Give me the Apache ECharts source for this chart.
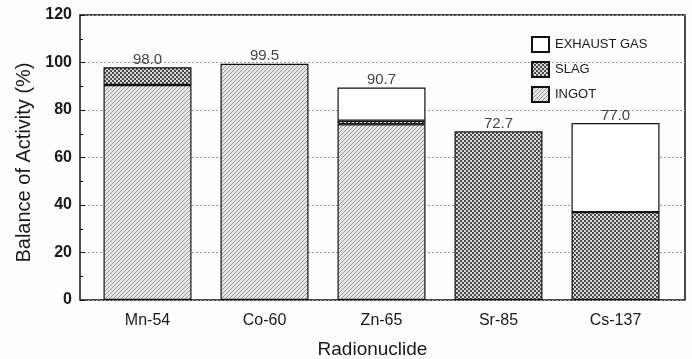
<!DOCTYPE html>
<html>
<head>
<meta charset="utf-8">
<script src="https://cdn.jsdelivr.net/npm/echarts@6/dist/echarts.min.js"></script>
<style>
    html, body { margin: 0; padding: 0; background: #fdfdfd; }
    #chart { width: 692px; height: 359px; }
</style>
</head>
<body>
<div id="chart"></div>
<script>
    // data
    var nuclides = ["Mn-54", "Co-60", "Zn-65", "Sr-85", "Cs-137"];
    var ingot = [90.5, 99.5, 74, null, null];
    var slag = [7.5, null, 1.5, 71, 37];
    var exhaust = [null, null, 14, null, 37.5];
    var barTops = [98, 99.5, 89.5, 71, 74.5];
    var totalLabels = ["98.0", "99.5", "90.7", "72.7", "77.0"];
    var yTicks = [0, 20, 40, 60, 80, 100, 120];

    // hatch patterns
    function hatch() {
        var c = document.createElement("canvas");
        c.width = 4; c.height = 4;
        var g = c.getContext("2d");
        g.fillStyle = "#e6e6e6";
        g.fillRect(0, 0, 4, 4);
        g.strokeStyle = "#9a9a9a";
        g.lineWidth = 1;
        g.beginPath();
        g.moveTo(0, 4); g.lineTo(4, 0);
        g.moveTo(-1, 1); g.lineTo(1, -1);
        g.moveTo(3, 5); g.lineTo(5, 3);
        g.stroke();
        return c;
    }
    function dots() {
        var c = document.createElement("canvas");
        c.width = 4; c.height = 4;
        var g = c.getContext("2d");
        g.fillStyle = "#d8d8d8";
        g.fillRect(0, 0, 4, 4);
        g.fillStyle = "#4a4a4a";
        g.fillRect(0, 0, 2, 2);
        g.fillRect(2, 2, 2, 2);
        return c;
    }
    var ingotFill = { image: hatch(), repeat: "repeat" };
    var slagFill = { image: dots(), repeat: "repeat" };

    var font = "'Liberation Sans', Arial, sans-serif";
    var barStyle = function (fill) {
        return { color: fill, borderColor: "#111", borderWidth: 1.2 };
    };

    var option = {
        animation: false,
        backgroundColor: "#fdfdfd",
        textStyle: { fontFamily: font },
        grid: [
            { left: 80, right: 7, top: 15, bottom: 59, show: true, borderColor: "#111", borderWidth: 1.5, containLabel: false, outerBoundsMode: "none" },
            { left: 89, width: 585, top: 15, bottom: 59, containLabel: false, outerBoundsMode: "none" }
        ],
        legend: {
            orient: "vertical",
            left: 526,
            top: 31,
            itemWidth: 17,
            itemHeight: 15,
            itemGap: 8,
            icon: "rect",
            data: ["EXHAUST GAS", "SLAG", "INGOT"],
            textStyle: { fontFamily: font, fontSize: 13, color: "#1a1a1a", padding: [0, 0, 0, 1] }
        },
        xAxis: [
            {
                gridIndex: 0, type: "category", data: nuclides,
                axisLine: { show: false }, axisTick: { show: false }, axisLabel: { show: false },
                name: "Radionuclide",
                nameLocation: "middle",
                nameGap: 40,
                nameTextStyle: { fontSize: 19, color: "#1a1a1a", fontFamily: font, padding: [0, 20, 0, 0] }
            },
            {
                gridIndex: 1, type: "category", data: nuclides,
                axisLine: { show: false },
                axisTick: { show: true, inside: true, alignWithLabel: true, length: 5, lineStyle: { color: "#111" } },
                axisLabel: { color: "#1a1a1a", fontSize: 16, margin: 13, fontFamily: font }
            }
        ],
        yAxis: [
            {
                gridIndex: 0, type: "value", min: 0, max: 120, interval: 20,
                axisLine: { show: false },
                axisTick: { show: true, inside: true, length: 5, lineStyle: { color: "#111" } },
                minorTick: { show: true, splitNumber: 2, length: 3, lineStyle: { color: "#111" } },
                axisLabel: {
                    color: "#1a1a1a", fontSize: 16, fontWeight: "bold", margin: 8, fontFamily: font,
                    formatter: function (v) { return yTicks.indexOf(v) >= 0 ? String(v) : ""; }
                },
                splitLine: { show: true, lineStyle: { color: "#999", type: [2, 2], width: 1 } },
                name: "Balance of Activity (%)",
                nameLocation: "middle",
                nameGap: 46,
                nameTextStyle: { fontSize: 20, color: "#1a1a1a", fontFamily: font, padding: [0, 10, 0, 0] }
            },
            { gridIndex: 1, type: "value", min: 0, max: 120, show: false }
        ],
        series: [
            {
                name: "INGOT", type: "bar", stack: "a", xAxisIndex: 1, yAxisIndex: 1,
                barWidth: 88, data: ingot, itemStyle: barStyle(ingotFill)
            },
            {
                name: "SLAG", type: "bar", stack: "a", xAxisIndex: 1, yAxisIndex: 1,
                barWidth: 88, data: slag, itemStyle: barStyle(slagFill)
            },
            {
                name: "EXHAUST GAS", type: "bar", stack: "a", xAxisIndex: 1, yAxisIndex: 1,
                barWidth: 88, data: exhaust, itemStyle: barStyle("#ffffff")
            },
            {
                name: "totals", type: "scatter", xAxisIndex: 1, yAxisIndex: 1,
                symbolSize: 0, data: barTops, silent: true,
                label: {
                    show: true, position: "top", distance: 0,
                    fontSize: 15, color: "#111", fontFamily: font,
                    formatter: function (p) { return totalLabels[p.dataIndex]; }
                }
            }
        ]
    };

    var chartObj = echarts.init(document.getElementById("chart"));
    chartObj.setOption(option);
</script>
</body>
</html>
